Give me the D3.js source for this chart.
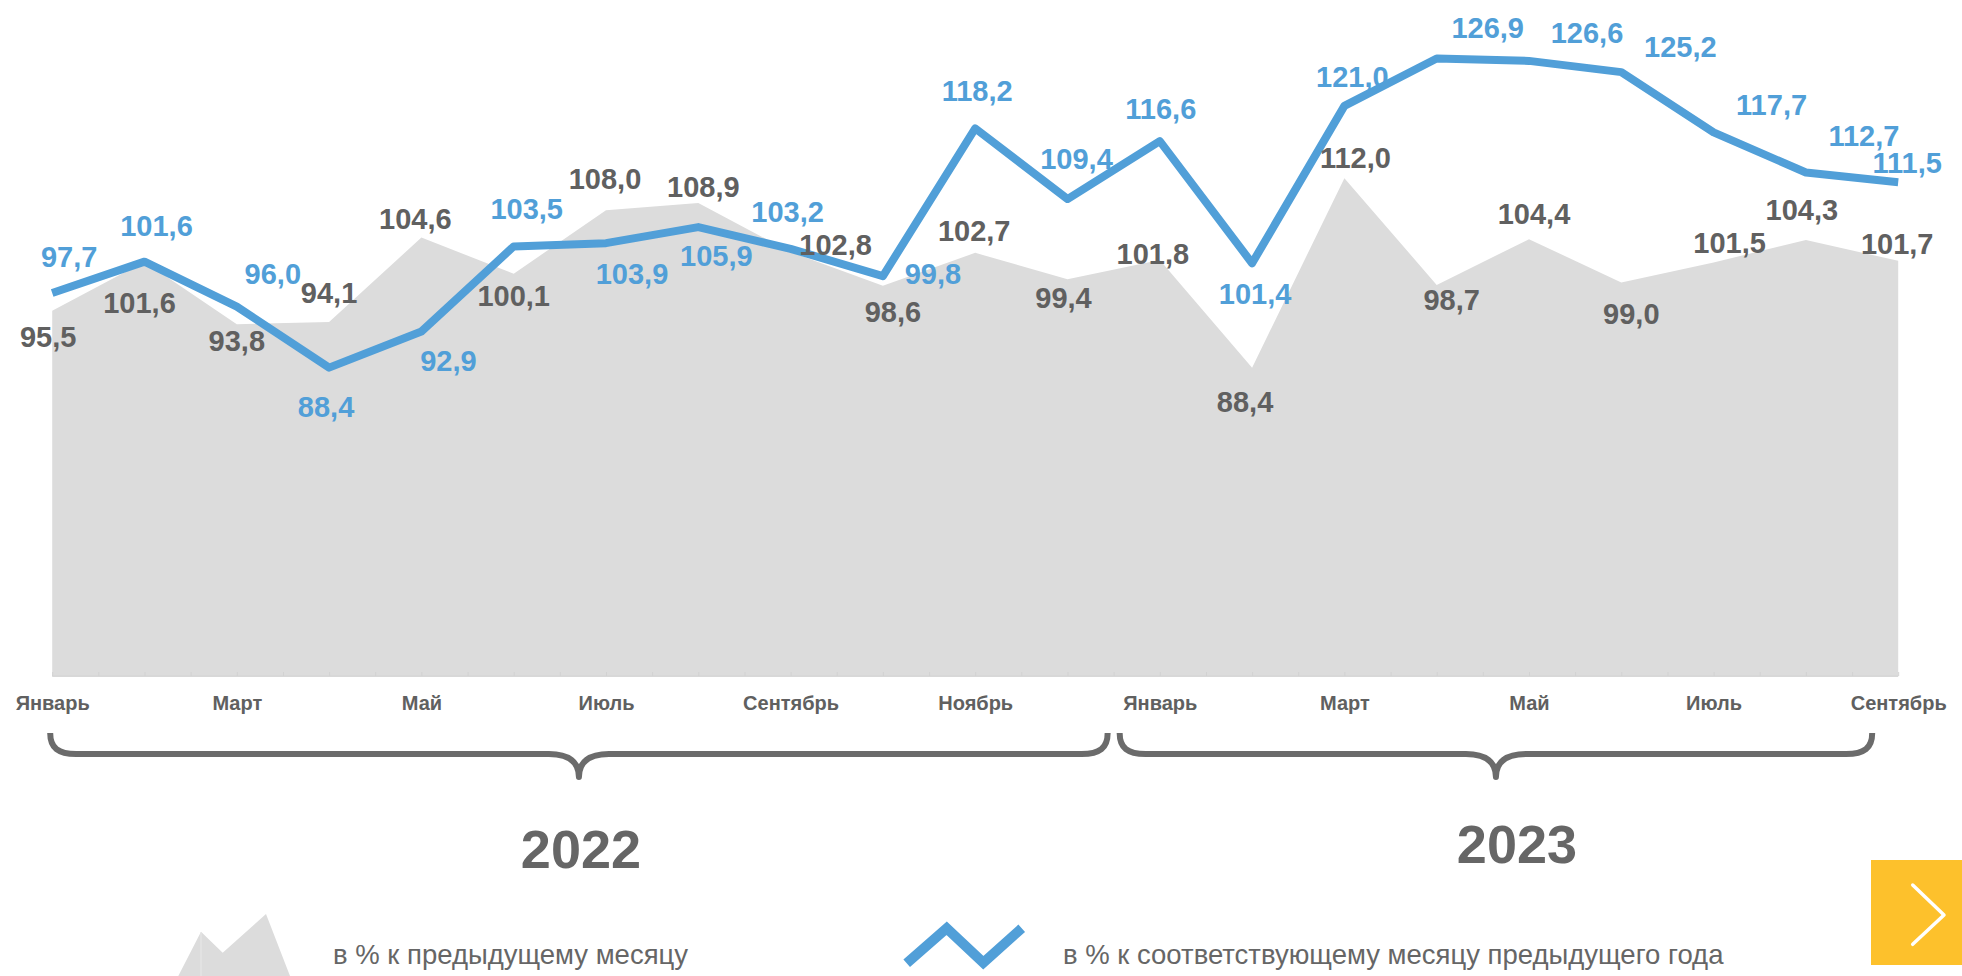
<!DOCTYPE html>
<html><head><meta charset="utf-8">
<script src="https://cdn.jsdelivr.net/npm/d3@7/dist/d3.min.js"></script>
<style>html,body{margin:0;padding:0;background:#fff;overflow:hidden}text{font-family:"Liberation Sans",Arial,sans-serif}</style>
</head><body><svg id="c" width="1962" height="976"></svg>
<script>
// ---- data ----
const months = ["Январь","Февраль","Март","Апрель","Май","Июнь","Июль","Август","Сентябрь","Октябрь","Ноябрь","Декабрь",
                "Январь","Февраль","Март","Апрель","Май","Июнь","Июль","Август","Сентябрь"];
const yearGroups = [{label:"2022", from:0, to:11},{label:"2023", from:12, to:20}];
const prevMonth = [95.5,101.6,93.8,94.1,104.6,100.1,108.0,108.9,102.8,98.6,102.7,99.4,
                   101.8,88.4,112.0,98.7,104.4,99.0,101.5,104.3,101.7];
const prevYear  = [97.7,101.6,96.0,88.4,92.9,103.5,103.9,105.9,103.2,99.8,118.2,109.4,
                   116.6,101.4,121.0,126.9,126.6,125.2,117.7,112.7,111.5];
const legendLabels = ["в % к предыдущему месяцу","в % к соответствующему месяцу предыдущего года"];

// ---- layout (label placement offsets, px) ----
const blueOffsets = [[17,-36],[12,-36],[36,-33],[-3,39],[27,29],[13,-38],[26,30],[18,28],[-3,-37],[50,-3],[2,-38],[9,-40],
                     [1,-33],[3,30],[8,-29],[51,-31],[58,-28],[59,-26],[58,-28],[58,-37],[9,-20]];
const grayOffsets = [[-4,26],[-5,41],[0,16],[0,-29],[-6,-19],[0,22],[-1,-32],[5,-16],[45,-7],[10,26],[-1,-22],[-4,18],
                     [-7,-6],[-7,34],[11,-21],[15,15],[5,-26],[10,31],[16,-20],[-4,-30],[-1,-17]];

const BLUE = "#519fd8", GRAY_FILL = "#dcdcdc", TXT = "#606060";
const svg = d3.select("#c");
const x = d3.scaleLinear().domain([0, months.length - 1]).range([52.2, 1898.2]);
const y = d3.scaleLinear().domain([50, 130]).range([676, 33.6]);

// area
svg.append("path").datum(prevMonth)
  .attr("d", d3.area().x((d,i)=>x(i)).y0(y(50)).y1(d=>y(d)))
  .attr("fill", GRAY_FILL);

// axis with small half-step ticks
const halfTicks = d3.range(0, months.length - 0.5, 0.5);
const ax = svg.append("g").attr("transform", `translate(0,${y(50)})`)
  .call(d3.axisBottom(x).tickValues(halfTicks).tickSize(-4).tickSizeOuter(0).tickFormat(""));
ax.select(".domain").attr("stroke", "#d8d8d8").attr("stroke-width", 2).attr("d", `M${x(0)},0H${x(months.length-1)}`);
ax.selectAll(".tick line").attr("stroke", "#d2d2d2").attr("stroke-width", 1);

// month tick labels
const lab = svg.append("g").attr("transform", `translate(0,${y(50)})`)
  .call(d3.axisBottom(x).tickValues(d3.range(0, months.length, 2)).tickSize(0).tickFormat(i => months[i]));
lab.select(".domain").remove();
lab.selectAll("text").attr("y", 34).attr("dy", 0).attr("fill", TXT)
  .style("font-size", "20px").style("font-weight", "bold").style("font-family", '"Liberation Sans",Arial,sans-serif');

// line
svg.append("path").datum(prevYear)
  .attr("d", d3.line().x((d,i)=>x(i)).y(d=>y(d)))
  .attr("fill", "none").attr("stroke", BLUE).attr("stroke-width", 8)
  .attr("stroke-linejoin", "round").attr("stroke-linecap", "butt");

const fmt = v => d3.format(".1f")(v).replace(".", ",");
// gray labels
svg.append("g").selectAll("text").data(prevMonth).join("text")
  .attr("x", (d,i)=>x(i) + grayOffsets[i][0]).attr("y", (d,i)=>y(d) + grayOffsets[i][1])
  .attr("dy", "0.36em").attr("text-anchor", "middle")
  .attr("fill", TXT).style("font-size", "29px").style("font-weight", "bold").text(fmt);
// blue labels
svg.append("g").selectAll("text").data(prevYear).join("text")
  .attr("x", (d,i)=>x(i) + blueOffsets[i][0]).attr("y", (d,i)=>y(d) + blueOffsets[i][1])
  .attr("dy", "0.36em").attr("text-anchor", "middle")
  .attr("fill", BLUE).style("font-size", "29px").style("font-weight", "bold").text(fmt);

// braces + years
const gap = (x(1) - x(0)) / 2;
const braceSpans = [
  [x(yearGroups[0].from) - 2, x(yearGroups[0].to) + gap - 6],
  [x(yearGroups[1].from) - gap + 6, x(yearGroups[1].to) - 26]
];
const yearLabelShift = [[2, 868], [21, 863]];
function bracePath(a, b) {
  const top = 733, bar = 754, tip = 777, m = (a + b) / 2;
  return `M${a},${top} C${a},${bar-6} ${a+8},${bar} ${a+26},${bar} L${m-30},${bar} C${m-10},${bar} ${m},${bar+8} ${m},${tip}` +
         ` C${m},${bar+8} ${m+10},${bar} ${m+30},${bar} L${b-26},${bar} C${b-8},${bar} ${b},${bar-6} ${b},${top}`;
}
braceSpans.forEach((s, k) => {
  svg.append("path").attr("d", bracePath(s[0], s[1])).attr("fill", "none")
    .attr("stroke", "#6b6b6b").attr("stroke-width", 6).attr("stroke-linejoin", "round");
  svg.append("text").attr("x", (s[0]+s[1])/2 + yearLabelShift[k][0]).attr("y", yearLabelShift[k][1])
    .attr("text-anchor", "middle").attr("fill", "#666").style("font-size", "54px").style("font-weight", "bold")
    .text(yearGroups[k].label);
});

// legend
svg.append("path").attr("d", "M178.3,976 L201,931.7 L222.7,952.7 L266,914 L290,976 Z").attr("fill", GRAY_FILL);
svg.append("line").attr("x1", 201).attr("y1", 932).attr("x2", 201).attr("y2", 976).attr("stroke", "#e8e8e8").attr("stroke-width", 1);
svg.append("text").attr("x", 333).attr("y", 964).attr("fill", "#666").style("font-size", "27.5px").text(legendLabels[0]);
svg.append("path").attr("d", "M906.7,963.3 L946.7,928.3 L983.3,962.7 L1021.7,928.3").attr("fill", "none")
  .attr("stroke", BLUE).attr("stroke-width", 10).attr("stroke-linejoin", "miter");
svg.append("text").attr("x", 1063).attr("y", 964).attr("fill", "#666").style("font-size", "27.5px").text(legendLabels[1]);

// next button
svg.append("rect").attr("x", 1871).attr("y", 860).attr("width", 91).attr("height", 105).attr("fill", "#fdc12c");
svg.append("path").attr("d", "M1912.7,885 L1944,915 L1912.7,944.3").attr("fill", "none")
  .attr("stroke", "#fff").attr("stroke-width", 3.5).attr("stroke-linecap", "round").attr("stroke-linejoin", "round");
</script></body></html>
